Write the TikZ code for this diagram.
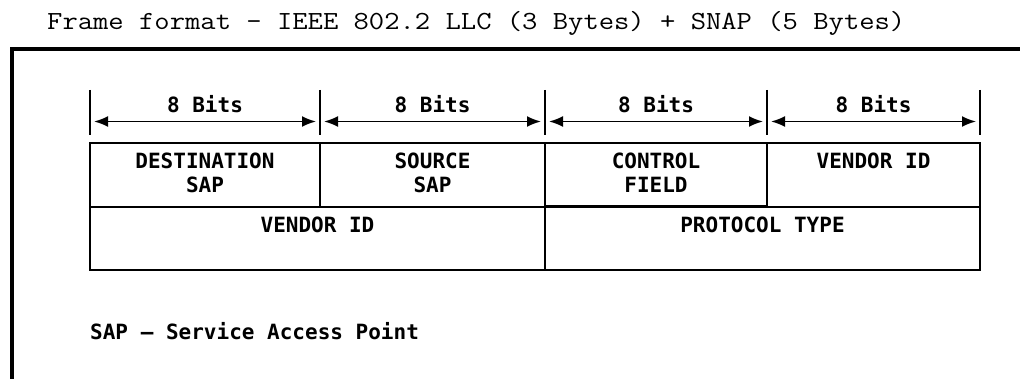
\documentclass[tikz,border=0pt]{standalone}
\usepackage{fontspec}
\newfontfamily\titlefont[FakeStretch=1.14]{Latin Modern Mono}
\newfontfamily\fieldfont{DejaVu Sans Mono}
\usetikzlibrary{arrows.meta,positioning}

\begin{document}
\begin{tikzpicture}[
  x=1pt, y=-1pt,
  cell/.style={draw, line width=1.6pt, anchor=north west, inner sep=0pt, outer sep=0pt},
  field/.style={align=center, inner sep=0pt, font=\fieldfont\bfseries\fontsize{21}{24}\selectfont},
  tick/.style={line width=1.6pt},
  span/.style={{Latex[length=14pt,width=11pt]}-{Latex[length=14pt,width=11pt]}, line width=1.8pt, shorten <=4pt, shorten >=4pt}
]
\useasboundingbox (0,0) rectangle (1020,379);

% title and outer frame
\node[anchor=base west, inner sep=0pt, font=\titlefont\fontsize{26.1}{30}\selectfont] (title) at (47,30) {Frame format - IEEE 802.2 LLC (3 Bytes) + SNAP (5 Bytes)};
\draw[line width=4.5pt, line join=miter] (12,390) -- (12,49) -- (1030,49);

% bit widths
\foreach \x [count=\i from 0] in {90,320,545,767,980} {
  \draw[tick] (\x,90) -- (\x,135);
  \coordinate (t\i) at (\x,121.5);
}
\draw[span] (t0) -- node[field, above=8pt] (w1) {8 Bits} (t1);
\draw[span] (t1) -- node[field, above=8pt] (w2) {8 Bits} (t2);
\draw[span] (t2) -- node[field, above=8pt] (w3) {8 Bits} (t3);
\draw[span] (t3) -- node[field, above=8pt] (w4) {8 Bits} (t4);

% LLC + SNAP fields
\node[cell, minimum width=230pt, minimum height=64pt] (dsap) at (90,143) {};
\node[cell, minimum width=225pt, minimum height=64pt] (ssap) at (dsap.north east) {};
\node[cell, minimum width=222pt, minimum height=63pt] (ctrl) at (ssap.north east) {};
\node[cell, minimum width=213pt, minimum height=64pt] (oui) at (ctrl.north east) {};
\node[cell, minimum width=455pt, minimum height=63pt] (oui2) at (dsap.south west) {};
\node[cell, minimum width=435pt, minimum height=63pt] (ptype) at (oui2.north east) {};

\node[field, below=10pt of dsap.north] (dsaptext) {DESTINATION\\SAP};
\node[field, below=10pt of ssap.north] (ssaptext) {SOURCE\\SAP};
\node[field, below=10pt of ctrl.north] (ctrltext) {CONTROL\\FIELD};
\node[field, below=10pt of oui.north] (ouitext) {VENDOR ID};
\node[field, below=10pt of oui2.north] (oui2text) {VENDOR ID};
\node[field, below=10pt of ptype.north] (ptypetext) {PROTOCOL TYPE};

% note
\node[field, anchor=base west] (note) at (90,340) {SAP – Service Access Point};
\end{tikzpicture}
\end{document}
